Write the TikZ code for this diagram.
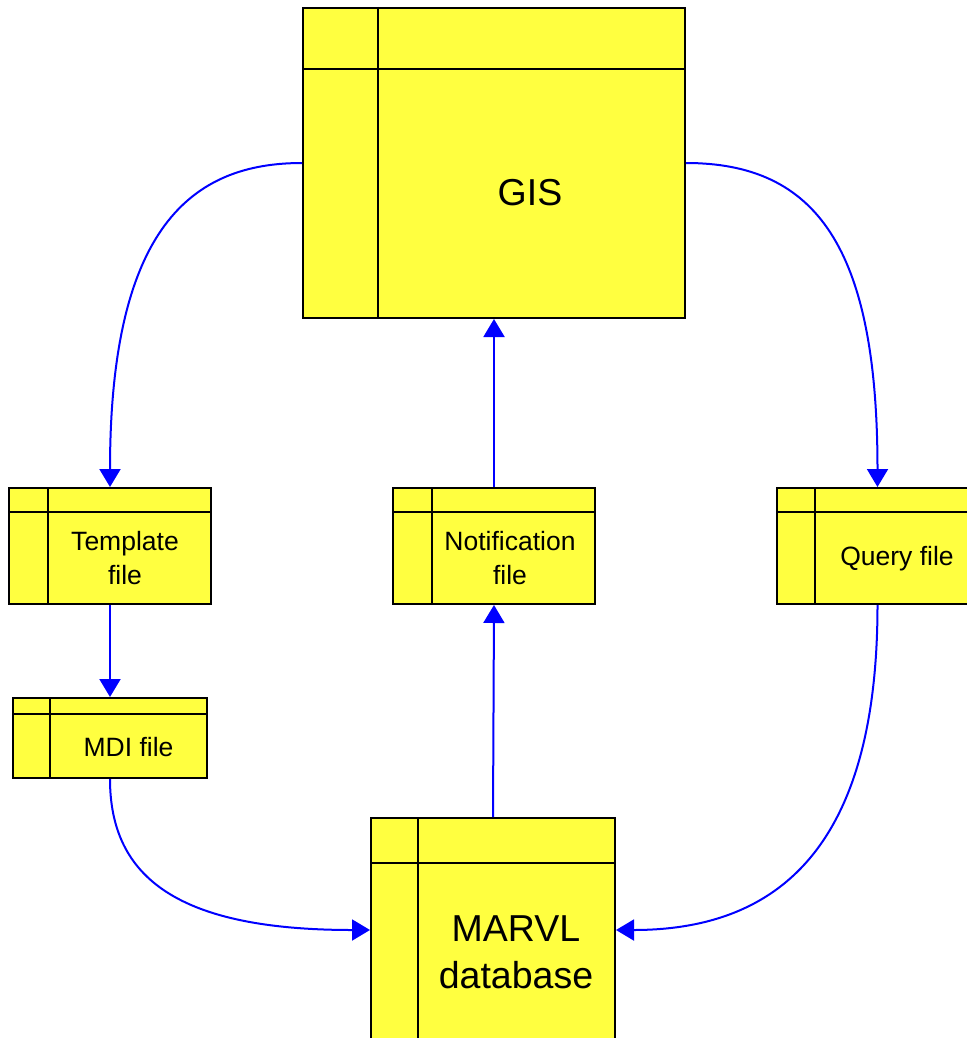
\documentclass[tikz,border=0pt]{standalone}
\usepackage{fontspec}
\setmainfont{Liberation Sans}
\usetikzlibrary{arrows.meta}
\definecolor{boxyellow}{RGB}{255,255,64}
\definecolor{arrowblue}{RGB}{0,0,255}
\tikzset{
  filebox/.style={draw=black, line width=2pt, fill=boxyellow, rectangle, inner sep=0pt, anchor=north west},
  divider/.style={draw=black, line width=2pt},
  flow/.style={draw=arrowblue, line width=2pt, -{Triangle[width=21pt,length=18pt]}},
  bigtext/.style={font=\fontsize{37.5}{47}\selectfont, align=center, inner sep=0pt},
  smalltext/.style={font=\fontsize{26.5}{34}\selectfont, align=center, inner sep=0pt}
}
\newcommand{\boxdividers}[3]{%
  \draw[divider] ([xshift=#2]#1.north west) -- ([xshift=#2]#1.south west);
  \draw[divider] ([yshift=-#3]#1.north west) -- ([yshift=-#3]#1.north east);
}
\begin{document}
\begin{tikzpicture}[x=1pt,y=-1pt]
\useasboundingbox (0,0) rectangle (966,1038);

% boxes
\node[filebox, minimum width=382pt, minimum height=310pt] (gis) at (302,7) {};
\boxdividers{gis}{76pt}{62pt}
\node[filebox, minimum width=202pt, minimum height=116pt] (tmpl) at (8,487) {};
\boxdividers{tmpl}{40pt}{25pt}
\node[filebox, minimum width=194pt, minimum height=80pt] (mdi) at (12,697) {};
\boxdividers{mdi}{38pt}{17pt}
\node[filebox, minimum width=202pt, minimum height=116pt] (notif) at (392,487) {};
\boxdividers{notif}{40pt}{25pt}
\node[filebox, minimum width=201pt, minimum height=116pt] (query) at (776,487) {};
\boxdividers{query}{39pt}{25pt}
\node[filebox, minimum width=244pt, minimum height=224pt] (marvl) at (370,817) {};
\boxdividers{marvl}{48pt}{46pt}

% labels
\node[bigtext] (gislabel) at (530,193) {GIS};
\node[smalltext] (tmpllabel) at (125,558) {Template\\file};
\node[smalltext] (mdilabel) at (128.5,747) {MDI file};
\node[smalltext] (notiflabel) at (510,558) {Notification\\file};
\node[smalltext] (querylabel) at (897,559) {Query file};
\node[bigtext] (marvllabel) at (516,952) {MARVL\\database};

% connectors
\draw[flow] (gis.west) .. controls +(-110,0) and +(0,-260) .. (tmpl.north);
\draw[flow] (gis.east) .. controls +(130,0) and +(0,-240) .. (query.north);
\draw[flow] (notif.north) -- (gis.south);
\draw[flow] (marvl.north) -- (notif.south);
\draw[flow] (tmpl.south) -- (mdi.north);
\draw[flow] (mdi.south) .. controls +(0,100) and +(-190,0) .. (marvl.west);
\draw[flow] (query.south) .. controls +(0,220) and +(180,0) .. (marvl.east);
\end{tikzpicture}
\end{document}
